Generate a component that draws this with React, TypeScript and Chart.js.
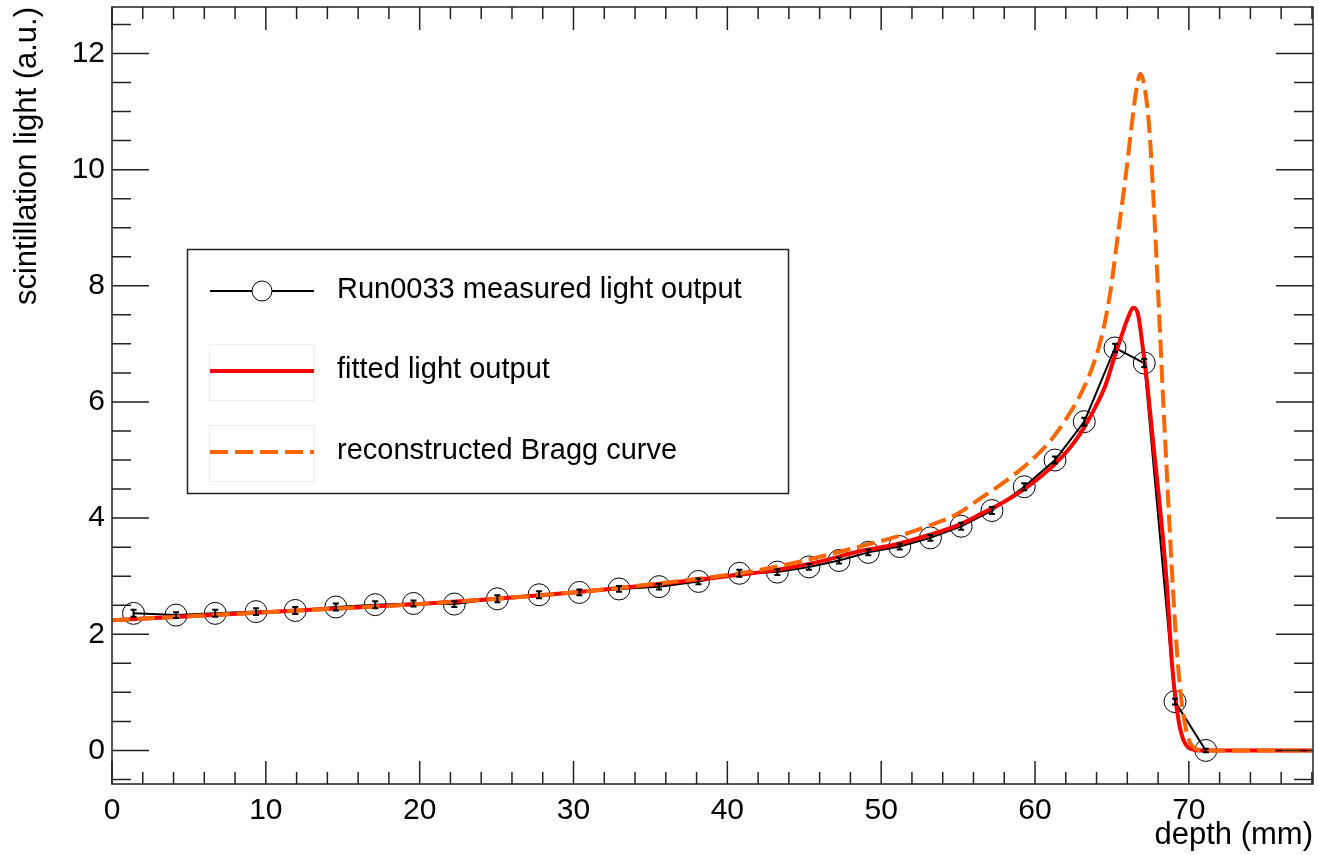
import React, { useEffect, useRef } from "react";
import { Chart, registerables } from "chart.js";
Chart.register(...registerables);

// ---------- data ----------
const depthMm = [1.4, 4.16, 6.71, 9.36, 11.91, 14.55, 17.11, 19.6, 22.25, 25.05, 27.76, 30.38, 32.96, 35.56, 38.12, 40.78, 43.25, 45.3, 47.26, 49.16, 51.2, 53.2, 55.2, 57.2, 59.3, 61.3, 63.2, 65.2, 67.1, 69.1, 71.1];
const measuredLight = [2.36, 2.33, 2.36, 2.39, 2.41, 2.47, 2.51, 2.53, 2.52, 2.61, 2.68, 2.72, 2.78, 2.82, 2.91, 3.05, 3.07, 3.16, 3.27, 3.41, 3.51, 3.66, 3.86, 4.13, 4.54, 5.0, 5.66, 6.93, 6.67, 0.84, 0.0];
const measuredErr = [0.06, 0.05, 0.06, 0.06, 0.06, 0.06, 0.06, 0.05, 0.05, 0.06, 0.06, 0.05, 0.05, 0.05, 0.05, 0.06, 0.05, 0.05, 0.05, 0.05, 0.05, 0.05, 0.06, 0.06, 0.06, 0.06, 0.07, 0.07, 0.07, 0.05, 0.03];

const fitDepth = [0, 5, 10, 15, 20, 25, 30, 35, 40, 43, 46, 48.6, 51, 53, 55, 56.4, 58, 59.2, 60.4, 61.4, 62.3, 63.1, 64, 64.6, 65.1, 65.6, 66, 66.4, 66.7, 67, 67.3, 67.7, 68, 68.3, 68.6, 68.9, 69.2, 69.5, 69.8, 70.2, 70.6, 78];
const fitLight = [2.24, 2.31, 2.38, 2.45, 2.52, 2.61, 2.72, 2.85, 3.0, 3.1, 3.25, 3.43, 3.55, 3.7, 3.88, 4.06, 4.28, 4.48, 4.72, 4.96, 5.22, 5.52, 5.95, 6.3, 6.72, 7.12, 7.42, 7.62, 7.5, 6.95, 6.3, 5.25, 4.5, 3.7, 2.75, 1.5, 0.75, 0.3, 0.1, 0.02, 0, 0];

const braggDepth = [0, 5, 10, 15, 20, 25, 30, 35, 40, 42, 45, 48.6, 51, 53, 55, 56.4, 58, 59.7, 61, 62, 63, 63.8, 64.4, 64.9, 65.4, 65.9, 66.3, 66.6, 66.85, 67.1, 67.4, 67.7, 68.0, 68.3, 68.6, 68.9, 69.2, 69.5, 69.8, 70.1, 70.5, 70.9, 78];
const braggLight = [2.24, 2.31, 2.38, 2.45, 2.52, 2.61, 2.72, 2.86, 3.02, 3.1, 3.27, 3.51, 3.68, 3.86, 4.08, 4.33, 4.62, 4.98, 5.33, 5.7, 6.15, 6.65, 7.2, 7.9, 8.9, 9.9, 10.8, 11.4, 11.65, 11.45, 10.8, 9.5, 7.9, 6.2, 4.6, 3.1, 1.8, 0.9, 0.38, 0.12, 0.02, 0, 0];

const xTickValues = [0, 10, 20, 30, 40, 50, 60, 70];
const yTickValues = [0, 2, 4, 6, 8, 10, 12];
const xMinorStep = 2;
const yMinorStep = 0.5;

const seriesLabels = ["Run0033 measured light output", "fitted light output", "reconstructed Bragg curve"];
const xTitle = "depth (mm)";
const yTitle = "scintillation light (a.u.)";

const FONT = "'Liberation Sans', Arial, Helvetica, sans-serif";
const RED = "#ff0000";
const ORANGE = "#ff6600";

export default function App() {
  const ref = useRef<HTMLCanvasElement>(null);

  useEffect(() => {
    const canvas = ref.current!;

    const errorBars = {
      id: "errorBars",
      afterDatasetsDraw(chart: any) {
        const { ctx, scales } = chart;
        ctx.save();
        ctx.strokeStyle = "#000";
        ctx.lineWidth = 2;
        depthMm.forEach((x, i) => {
          const px = scales.x.getPixelForValue(x);
          const y1 = scales.y.getPixelForValue(measuredLight[i] - measuredErr[i]);
          const y2 = scales.y.getPixelForValue(measuredLight[i] + measuredErr[i]);
          ctx.beginPath();
          ctx.moveTo(px, y1);
          ctx.lineTo(px, y2);
          ctx.moveTo(px - 3, y1);
          ctx.lineTo(px + 3, y1);
          ctx.moveTo(px - 3, y2);
          ctx.lineTo(px + 3, y2);
          ctx.stroke();
        });
        ctx.restore();
      },
    };

    const frameTicks = {
      id: "frameTicks",
      afterDraw(chart: any) {
        const { ctx, chartArea, scales } = chart;
        const { left, right, top, bottom } = chartArea;
        ctx.save();
        ctx.strokeStyle = "#222";
        ctx.lineWidth = 1.5;
        ctx.strokeRect(left, top, right - left, bottom - top);
        ctx.beginPath();
        const xs = scales.x;
        for (let v = xs.min; v <= xs.max + 1e-9; v += xMinorStep) {
          const major = xTickValues.some((t) => Math.abs(t - v) < 1e-6);
          const L = major ? 23 : 12;
          const px = xs.getPixelForValue(v);
          ctx.moveTo(px, bottom);
          ctx.lineTo(px, bottom - L);
          ctx.moveTo(px, top);
          ctx.lineTo(px, top + L);
        }
        const ys = scales.y;
        const yStart = Math.ceil(ys.min / yMinorStep) * yMinorStep;
        for (let v = yStart; v <= ys.max + 1e-9; v += yMinorStep) {
          const major = yTickValues.some((t) => Math.abs(t - v) < 1e-6);
          const L = major ? 37 : 19;
          const py = ys.getPixelForValue(v);
          ctx.moveTo(left, py);
          ctx.lineTo(left + L, py);
          ctx.moveTo(right, py);
          ctx.lineTo(right - L, py);
        }
        ctx.stroke();
        ctx.restore();
      },
    };

    const legendBox = {
      id: "legendBox",
      afterDraw(chart: any) {
        const { ctx } = chart;
        ctx.save();
        ctx.fillStyle = "#fff";
        ctx.fillRect(187, 249, 601, 244);
        ctx.strokeStyle = "#222";
        ctx.lineWidth = 1.5;
        ctx.strokeRect(187.5, 249.5, 601, 244);

        ctx.strokeStyle = "#eeeeee";
        ctx.lineWidth = 1;
        ctx.strokeRect(209.5, 344.5, 105, 56);
        ctx.strokeRect(209.5, 425.5, 105, 56);

        ctx.strokeStyle = "#000";
        ctx.lineWidth = 2;
        ctx.beginPath();
        ctx.moveTo(210, 291);
        ctx.lineTo(314, 291);
        ctx.stroke();
        ctx.beginPath();
        ctx.arc(262, 291, 10, 0, Math.PI * 2);
        ctx.fillStyle = "#fff";
        ctx.fill();
        ctx.lineWidth = 1;
        ctx.stroke();

        ctx.strokeStyle = RED;
        ctx.lineWidth = 4;
        ctx.beginPath();
        ctx.moveTo(210, 371);
        ctx.lineTo(314, 371);
        ctx.stroke();

        ctx.strokeStyle = ORANGE;
        ctx.setLineDash([18, 7]);
        ctx.beginPath();
        ctx.moveTo(210, 452);
        ctx.lineTo(314, 452);
        ctx.stroke();
        ctx.setLineDash([]);

        ctx.fillStyle = "#000";
        ctx.font = `29px ${FONT}`;
        ctx.textBaseline = "middle";
        ctx.textAlign = "left";
        ctx.fillText(seriesLabels[0], 337, 290);
        ctx.fillText(seriesLabels[1], 337, 370);
        ctx.fillText(seriesLabels[2], 337, 451);
        ctx.restore();
      },
    };

    const zeroPad = (s: any) => {
      s.paddingTop = 0;
      s.paddingBottom = 0;
      s.paddingLeft = 0;
      s.paddingRight = 0;
    };

    const chart = new Chart(canvas, {
      type: "scatter",
      data: {
        datasets: [
          {
            label: seriesLabels[0],
            data: depthMm.map((x, i) => ({ x, y: measuredLight[i] })),
            showLine: true,
            borderColor: "#000",
            borderWidth: 2,
            pointRadius: 11,
            pointBorderWidth: 1,
            pointBorderColor: "#000",
            pointBackgroundColor: "rgba(0,0,0,0)",
            tension: 0,
            order: 2,
          },
          {
            label: seriesLabels[1],
            data: fitDepth.map((x, i) => ({ x, y: fitLight[i] })),
            showLine: true,
            borderColor: RED,
            borderWidth: 4,
            pointRadius: 0,
            cubicInterpolationMode: "monotone",
            order: 1,
          },
          {
            label: seriesLabels[2],
            data: braggDepth.map((x, i) => ({ x, y: braggLight[i] })),
            showLine: true,
            borderColor: ORANGE,
            borderWidth: 4,
            borderDash: [18, 7],
            pointRadius: 0,
            cubicInterpolationMode: "monotone",
            order: 0,
          },
        ],
      } as any,
      options: {
        responsive: false,
        animation: false,
        events: [],
        layout: { autoPadding: false, padding: { left: 0, top: 7, right: 5, bottom: 0 } },
        plugins: { legend: { display: false }, tooltip: { enabled: false } },
        scales: {
          x: {
            type: "linear",
            min: 0,
            max: 78.07,
            afterBuildTicks: (s: any) => {
              s.ticks = xTickValues.map((v) => ({ value: v }));
            },
            afterFit: (s: any) => {
              s.height = 71;
              zeroPad(s);
            },
            grid: { display: false, drawTicks: false },
            border: { display: false },
            ticks: {
              font: { family: FONT, size: 30 },
              color: "#000",
              padding: 9,
              maxRotation: 0,
              autoSkip: false,
              callback: (v: any) => String(v),
            },
            title: {
              display: true,
              text: xTitle,
              align: "end",
              color: "#000",
              font: { family: FONT, size: 31 },
              padding: { top: 0, bottom: 1 },
            },
          },
          y: {
            type: "linear",
            min: -0.578,
            max: 12.8,
            afterBuildTicks: (s: any) => {
              s.ticks = yTickValues.map((v) => ({ value: v }));
            },
            afterFit: (s: any) => {
              s.width = 112;
              zeroPad(s);
            },
            grid: { display: false, drawTicks: false },
            border: { display: false },
            ticks: {
              font: { family: FONT, size: 30 },
              color: "#000",
              padding: 7,
              autoSkip: false,
              callback: (v: any) => String(v),
            },
            title: {
              display: true,
              text: yTitle,
              align: "end",
              color: "#000",
              font: { family: FONT, size: 31 },
              padding: { top: 9, bottom: 0 },
            },
          },
        },
      } as any,
      plugins: [errorBars, frameTicks, legendBox],
    });
    return () => chart.destroy();
  }, []);

  return (
    <div style={{ position: "fixed", left: 0, top: 0, width: 1318, height: 855, background: "#fff" }}>
      <canvas ref={ref} width={1318} height={855} style={{ display: "block", width: 1318, height: 855 }} />
    </div>
  );
}
